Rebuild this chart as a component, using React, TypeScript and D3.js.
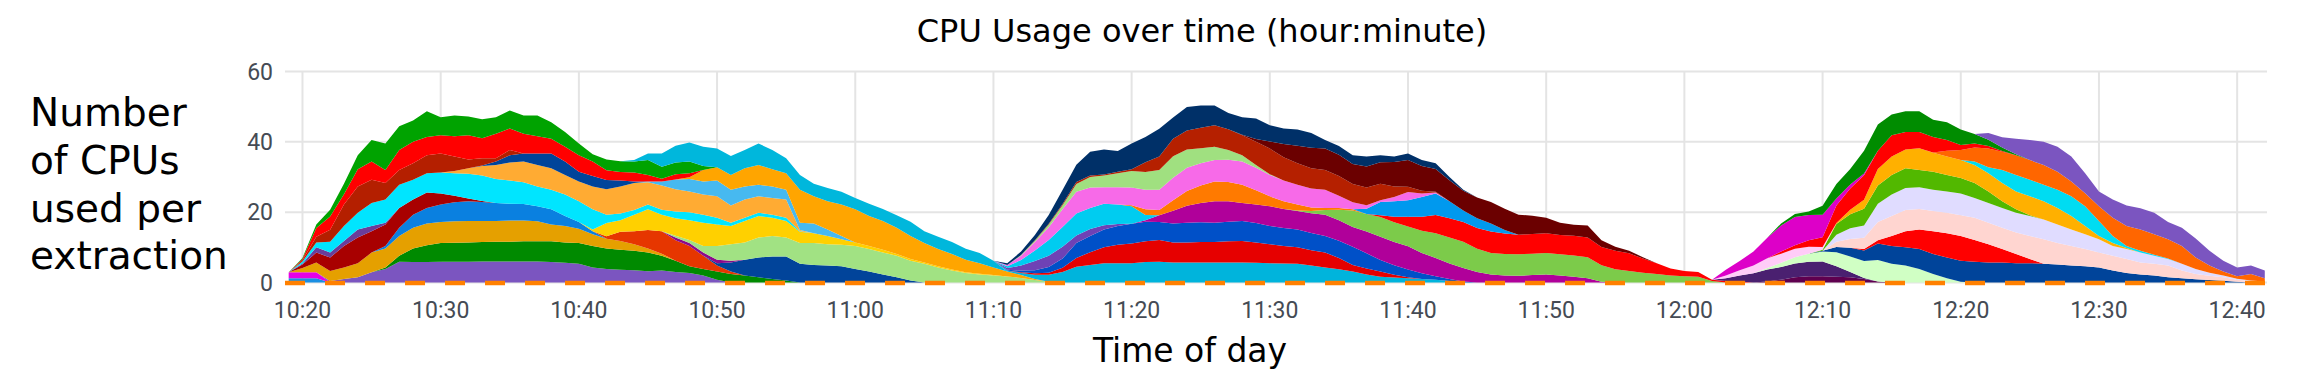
import React, { useEffect } from "react";
import * as d3 from "d3";

// ---------------- data ----------------
// time axis: minutes after 10:20
const tickMinutes = [0, 10, 20, 30, 40, 50, 60, 70, 80, 90, 100, 110, 120, 130, 140];
const tickLabels = ["10:20", "10:30", "10:40", "10:50", "11:00", "11:10", "11:20", "11:30", "11:40", "11:50", "12:00", "12:10", "12:20", "12:30", "12:40"];
const yTicks = [0, 20, 40, 60];
const firstMinute = -1;
const lastMinute = 142;

// ---- extraction batch 1 (series values = CPUs, one per minute from `start`) ----
const g1EarlyBlue = [1.2, 1.2, 1.2, 0];
const g1EarlyMagenta = [1.7, 1.7, 1.7, 0];
const g1Purple = [0, 0.4, 1.0, 1.5, 2.9, 3.85, 5.9, 5.8, 5.8, 5.9, 5.9, 5.9, 6.0, 6.0, 6.0, 6.0, 6.0, 5.8, 5.6, 5.3, 4.3, 3.85, 3.6, 3.5, 3.2, 3.4, 3.0, 2.7, 2.0, 0.8, 0];
const g1Green = [0, 0.45, 1.7, 3.9, 4.8, 5.3, 5.4, 5.5, 5.5, 5.6, 5.6, 5.7, 5.7, 5.9, 5.8, 5.9, 6.1, 5.8, 5.7, 5.5, 5.3, 4.2, 3.2, 1.9, 1.85, 2.3, 2.4, 2.0, 1.5, 1.0, 0.6, 0];
const g1Gold = [0, 1.2, 2.8, 2.9, 3.3, 4.0, 5.6, 5.4, 5.6, 5.9, 6.2, 6.0, 6.1, 6.1, 6.0, 5.9, 6.0, 5.9, 5.7, 4.8, 4.7, 4.1, 3.3, 2.8, 2.5, 1.9, 1.2, 0.6, 0];
const g1Blue = [0, 0.7, 2.4, 3.7, 4.4, 5.0, 5.4, 5.6, 5.4, 5.1, 4.8, 4.7, 4.3, 4.3, 2.8, 1.9, 0.9, 0];
const g1DarkRed = [0, 1.0, 2.8, 3.8, 6.1, 7.3, 6.1, 6.1, 5.6, 4.3, 4.4, 3.1, 1.9, 0.8, 0.3, 0];
const g1Violet = [0, 0.3, 1.5, 1.4, 1.4, 2.3, 1.5, 0.5, 0];
const g1RedOrange = [0, 0.7, 2.6, 3.7, 5.2, 6.4, 5.8, 5.8, 3.75, 1.7, 0.7, 0];
const g1Navy = [0, 0.7, 2.6, 4.5, 5.6, 6.4, 6.8, 5.3, 5.0, 4.8, 4.6, 3.85, 3.1, 2.3, 1.5, 0.6, 0];
const g1Plum = [0, 0.8, 0.8, 0.9, 1.0, 0.5, 0];
const g1LightGreen = [0, 0.5, 0.9, 1.9, 3.9, 4.7, 4.9, 5.7, 5.8, 5.4, 5.9, 6.2, 6.1, 6.1, 6.55, 6.4, 6.2, 6.1, 5.6, 5.3, 4.3, 3.4, 2.7, 2.3, 2.0, 1.7, 1.3, 0.7, 0.2, 0];
const g1Yellow = [0, 0.5, 3.8, 3.3, 4.7, 5.9, 4.7, 5.0, 5.6, 6.6, 6.1, 5.2, 6.1, 6.1, 5.2, 4.7, 3.2, 2.8, 2.3, 1.6, 1.0, 0.9, 0.8, 0.5, 0.5, 0.4, 0.3, 0.3, 0.2, 0.2, 0.1, 0];
const g1Cyan = [0, 0.6, 1.4, 3.1, 4.3, 4.7, 6.5, 6.6, 6.6, 5.6, 5.5, 6.0, 6.4, 7.0, 7.2, 6.8, 6.6, 6.2, 5.6, 5.6, 6.1, 5.9, 5.7, 2.3, 1.9, 1.3, 1.4, 1.4, 1.9, 2.3, 2.3, 1.9, 0.9, 0.9, 0.9, 0.9, 0.9, 0.2, 0];
const g1LightOrange = [0, 0.6, 1.6, 2.7, 4.0, 5.1, 5.9, 6.1, 6.1, 5.6, 5.6, 6.5, 7.3, 7.7, 7.7, 6.3, 6.9, 6.3, 5.9, 5.7, 6.1, 4.9, 5.2, 4.7, 4.7, 5.2, 0.3, 0];
const g1SkyBlue = [0, 0.2, 1.1, 2.8, 3.5, 3.7, 4.5, 4.5, 3.7, 3.3, 3.3, 2.8, 2.1, 2.8, 1.9, 0.9, 0];
const g1Orange = [0, 0.5, 3.3, 3.8, 4.2, 5.2, 5.6, 4.9, 4.7, 9.4, 7.7, 8.0, 9.0, 9.4, 8.5, 8.2, 7.5, 6.5, 5.5, 4.9, 4.4, 3.6, 3.0, 2.2, 1.4, 0.8, 0.3, 0];
const g1DeepBlue = [0, 0.2, 1.0, 2.1, 2.3, 3.3, 4.2, 3.8, 2.8, 3.0, 2.6, 1.7, 0.4, 0];
const g1Brown = [0, 0.3, 1.6, 3.4, 6.1, 7.5, 6.6, 4.7, 4.2, 4.7, 5.1, 5.4, 4.1, 2.5, 2.0, 0.9, 1.5, 0];
const g1Red = [0, 0.4, 2.5, 3.8, 2.9, 4.9, 5.2, 3.7, 5.7, 6.1, 5.2, 5.2, 5.8, 6.9, 5.7, 7.0, 6.1, 5.6, 4.9, 4.2, 4.2, 4.7, 4.1, 2.8, 2.4, 2.6, 1.9, 0.8, 1.5, 1.2, 0];
const g1TopGreen = [0, 0.3, 1.0, 1.9, 3.0, 4.0, 6.1, 7.5, 6.7, 6.1, 7.3, 5.1, 5.9, 5.3, 5.4, 4.7, 5.1, 5.2, 5.9, 4.7, 4.2, 3.3, 2.1, 3.0, 3.1, 3.1, 4.2, 3.4, 3.3, 3.3, 1.1, 0];
const g1Teal = [0, 0.4, 1.9, 3.8, 4.8, 5.4, 5.5, 5.3, 5.4, 5.2, 6.1, 5.5, 4.2, 4.2, 3.6, 3.8, 3.6, 3.2, 3.5, 3.4, 3.5, 4.1, 3.4, 3.5, 3.4, 3.1, 2.9, 1.9, 0];

// ---- extraction batch 2 ----
const g2Teal = [0, 0.3, 0.6, 1.2, 2.0, 3.0, 4.5, 5.0, 5.5, 5.5, 5.5, 5.8, 5.9, 5.7, 5.7, 5.7, 5.7, 5.7, 5.7, 5.6, 5.5, 5.4, 5.3, 4.8, 4.3, 3.8, 3.1, 2.3, 1.6, 1.4, 1.2, 1.0, 0.8, 0.4, 0];
const g2Red = [0, 0.2, 0.4, 0.6, 1.2, 2.5, 3.6, 4.5, 5.2, 5.6, 5.9, 6.2, 5.7, 5.7, 5.8, 5.8, 6.0, 6.1, 5.8, 5.4, 5.0, 4.7, 4.4, 4.2, 3.2, 1.9, 1.7, 1.5, 0.8, 0.3, 0];
const g2Blue = [0, 0.2, 0.5, 0.9, 1.6, 2.6, 4.2, 4.6, 5.1, 5.4, 5.6, 5.6, 5.1, 5.4, 5.6, 5.6, 5.5, 5.6, 5.7, 5.5, 5.2, 5.1, 5.1, 4.9, 4.7, 4.9, 5.2, 4.3, 3.3, 2.7, 2.2, 1.6, 1.0, 0.6, 0.3, 0];
const g2Violet = [0, 0.5, 1.4, 2.6, 3.2, 3.4, 2.2, 2.0, 1.2, 0.5, 0];
const g2Magenta = [0, 0.4, 1.9, 3.6, 4.8, 5.5, 6.1, 5.8, 5.1, 5.3, 5.6, 5.4, 5.2, 5.6, 6.1, 5.8, 5.6, 6.2, 6.6, 6.6, 6.6, 5.8, 5.2, 4.4, 3.8, 3.0, 2.3, 2.0, 1.9, 2.1, 2.3, 2.0, 1.6, 1.2, 0.2, 0];
const g2Green = [0, 0.2, 0.6, 1.3, 3.0, 4.7, 5.0, 5.6, 5.6, 5.6, 6.3, 7.0, 7.4, 7.5, 6.6, 6.1, 6.1, 6.1, 6.1, 6.1, 6.0, 6.1, 6.0, 4.7, 3.8, 3.3, 2.8, 2.4, 2.0, 1.8, 1.6, 0.4, 0];
const g2BrightRed = [0, 0.5, 1.6, 2.8, 4.0, 5.2, 5.5, 5.6, 5.9, 6.1, 5.8, 5.6, 5.6, 5.6, 5.5, 5.6, 5.6, 5.2, 5.2, 5.0, 4.0, 3.1, 2.0, 1.5, 1.4, 0.4, 0.4, 0.3, 0];
const g2Cyan = [0, 0.5, 1.6, 3.0, 4.5, 5.6, 6.2, 6.0, 6.1, 5.6, 5.0, 1.5, 0];
const g2Orange = [0, 0.3, 1.6, 1.5, 3.0, 4.2, 5.0, 5.6, 5.5, 5.2, 4.0, 2.8, 2.2, 1.7, 1.0, 0.6, 0.5, 0.3, 0];
const g2SkyBlue = [0, 1.5, 3.8, 4.4, 4.7, 5.6, 6.1, 4.8, 3.3, 2.8, 2.3, 1.0, 0];
const g2Pink = [0, 0.4, 1.2, 2.4, 3.6, 5.0, 6.2, 5.8, 4.7, 4.9, 5.0, 5.6, 5.8, 6.4, 6.6, 6.3, 6.1, 6.3, 6.6, 6.4, 6.1, 5.9, 5.6, 5.4, 5.2, 3.5, 2.0, 1.0, 0.5, 1.2, 2.3, 1.0, 0.3, 0];
const g2LightGreen = [0, 0.2, 0.4, 0.8, 1.2, 2.2, 3.0, 3.3, 4.0, 4.7, 5.0, 5.6, 6.1, 5.2, 4.3, 3.8, 2.8, 1.8, 0.8, 0.2, 0];
const g2Rust = [0, 0.1, 0.2, 0.3, 0.6, 0.4, 0.3, 0.4, 0.5, 2.8, 3.8, 5.0, 5.4, 5.8, 6.1, 5.9, 5.7, 6.6, 7.3, 6.6, 6.1, 5.8, 5.6, 5.6, 5.2, 5.0, 4.7, 3.0, 1.5, 0.8, 0.2, 0];
const g2Maroon = [0, 0.1, 0.8, 2.0, 3.8, 5.0, 5.8, 6.1, 6.0, 5.7, 6.0, 6.1, 7.0, 7.6, 7.0, 6.5, 6.0, 5.6, 5.9, 6.1, 6.1, 5.7, 5.2, 4.4, 3.5, 3.1, 3.4, 1.9, 1.2, 0.7, 0.4, 0];
const g2Navy = [0, 0.5, 1.0, 1.5, 2.5, 4.0, 4.9, 6.8, 7.1, 5.9, 7.3, 7.2, 7.9, 6.0, 6.7, 6.3, 5.6, 4.6, 5.0, 5.8, 4.6, 4.4, 4.6, 4.2, 2.4, 2.5, 2.5, 2.8, 2.0, 1.5, 1.9, 1.7, 1.6, 0.9, 0.3, 0];

// ---- extraction batch 3 ----
const g3Plum = [0, 0.3, 0.8, 1.5, 1.8, 1.8, 1.6, 1.5, 1.0, 0.3, 0];
const g3Indigo = [0, 0.8, 1.7, 2.6, 3.4, 3.6, 3.9, 4.1, 4.2, 3.0, 1.5, 0.3, 0];
const g3PaleGreen = [0, 0.4, 1.2, 1.8, 2.3, 2.8, 4.0, 4.4, 4.8, 6.1, 5.3, 4.8, 3.85, 2.4, 1.2, 0.2, 0];
const g3Navy = [0, 0.2, 1.5, 2.5, 3.0, 4.7, 5.1, 5.2, 5.65, 5.7, 5.9, 6.0, 5.9, 5.7, 5.7, 5.5, 5.5, 5.3, 5.1, 4.8, 4.6, 4.3, 3.4, 2.7, 2.3, 2.0, 1.5, 1.2, 0.9, 0.7, 0.5, 0.2, 0];
const g3Red = [0, 0.4, 0.9, 2.8, 4.6, 5.6, 6.5, 6.9, 7.0, 6.2, 5.2, 3.8, 2.6, 1.2, 0];
const g3Blush = [0, 1.5, 2.5, 3.2, 5.2, 5.7, 6.0, 5.8, 5.7, 5.8, 5.9, 6.3, 6.1, 6.1, 6.1, 6.5, 7.0, 6.1, 5.6, 4.9, 4.2, 4.2, 4.0, 3.4, 3.3, 3.3, 2.2, 1.5, 1.2, 1.0, 0.6, 0.4, 0.3];
const g3Lavender = [0, 2.0, 3.0, 3.5, 5.2, 6.1, 6.3, 6.2, 6.1, 6.1, 6.2, 5.6, 5.6, 5.6, 5.6, 5.7, 5.6, 5.3, 4.7, 4.2, 3.8, 2.8, 2.8, 2.8, 2.3, 1.9, 1.9, 1.45, 0.9, 0.5, 0.3, 0.2, 0];
const g3Green = [0, 0.3, 3.0, 4.0, 4.8, 5.2, 5.6, 5.6, 4.9, 5.1, 4.7, 4.4, 4.3, 3.3, 1.9, 1.0, 0.2, 0];
const g3Gold = [0, 0.3, 1.3, 2.5, 4.7, 5.2, 5.3, 6.2, 5.4, 5.2, 5.1, 5.1, 5.2, 5.2, 5.1, 5.4, 5.2, 4.7, 3.8, 2.4, 0.9, 0.8, 0.3, 0];
const g3Cyan = [0, 1.0, 1.7, 3.7, 4.7, 4.7, 4.7, 5.2, 5.6, 5.6, 4.3, 2.0, 0.6, 0.5, 0.3, 0.1, 0];
const g3Orange = [0, 0.1, 1.7, 2.9, 4.0, 5.3, 5.2, 5.6, 5.6, 5.6, 5.1, 4.2, 3.7, 4.2, 5.2, 5.7, 6.1, 5.8, 5.5, 5.1, 3.25, 2.0, 1.1, 0.7, 1.8, 0.9];
const g3PaleMagenta = [0, 0.8, 1.5, 2.2, 2.8, 2.6, 2.4, 2.0, 0.8, 0];
const g3BrightRed = [0, 0.6, 1.0, 1.8, 2.8, 5.0, 6.0, 7.0, 5.2, 6.1, 5.0, 4.6, 4.4, 3.0, 1.4, 1.1, 0.7, 0.2, 0];
const g3Magenta = [0, 1.6, 2.6, 4.0, 5.8, 7.4, 8.0, 7.2, 6.4, 2.0, 1.2, 0.5, 0];
const g3DarkGreen = [0, 0.6, 0.9, 1.0, 2.5, 4.1, 4.4, 6.5, 7.4, 5.9, 5.9, 5.9, 4.9, 5.1, 4.4, 2.7, 1.8, 1.0, 0.3, 0];
const g3Purple = [0, 1.9, 2.9, 4.4, 5.7, 6.6, 7.1, 7.1, 5.7, 4.2, 5.2, 5.8, 6.0, 6.1, 4.9, 5.2, 5.4, 4.2, 3.1, 2.5, 2.4, 2.2];

// stacking order (bottom -> top) and first minute of each series
const seriesDefs = [
  { key: "g1EarlyBlue", start: -1, values: g1EarlyBlue },
  { key: "g1EarlyMagenta", start: -1, values: g1EarlyMagenta },
  { key: "g1Purple", start: 1, values: g1Purple },
  { key: "g1Green", start: 5, values: g1Green },
  { key: "g1Gold", start: -1, values: g1Gold },
  { key: "g1Blue", start: 5, values: g1Blue },
  { key: "g1DarkRed", start: -1, values: g1DarkRed },
  { key: "g1Violet", start: -1, values: g1Violet },
  { key: "g1RedOrange", start: 21, values: g1RedOrange },
  { key: "g1Navy", start: 29, values: g1Navy },
  { key: "g1Plum", start: 26, values: g1Plum },
  { key: "g1LightGreen", start: 26, values: g1LightGreen },
  { key: "g1Yellow", start: 20, values: g1Yellow },
  { key: "g1Cyan", start: -1, values: g1Cyan },
  { key: "g1LightOrange", start: 10, values: g1LightOrange },
  { key: "g1SkyBlue", start: 24, values: g1SkyBlue },
  { key: "g1Orange", start: 27, values: g1Orange },
  { key: "g1DeepBlue", start: 12, values: g1DeepBlue },
  { key: "g1Brown", start: -1, values: g1Brown },
  { key: "g1Red", start: -1, values: g1Red },
  { key: "g1TopGreen", start: -1, values: g1TopGreen },
  { key: "g1Teal", start: 23, values: g1Teal },
  { key: "g2Teal", start: 50, values: g2Teal },
  { key: "g2Red", start: 51, values: g2Red },
  { key: "g2Blue", start: 50, values: g2Blue },
  { key: "g2Violet", start: 50, values: g2Violet },
  { key: "g2Magenta", start: 60, values: g2Magenta },
  { key: "g2Green", start: 71, values: g2Green },
  { key: "g2BrightRed", start: 77, values: g2BrightRed },
  { key: "g2Cyan", start: 50, values: g2Cyan },
  { key: "g2Orange", start: 59, values: g2Orange },
  { key: "g2SkyBlue", start: 76, values: g2SkyBlue },
  { key: "g2Pink", start: 50, values: g2Pink },
  { key: "g2LightGreen", start: 51, values: g2LightGreen },
  { key: "g2Rust", start: 52, values: g2Rust },
  { key: "g2Maroon", start: 67, values: g2Maroon },
  { key: "g2Navy", start: 50, values: g2Navy },
  { key: "g3Plum", start: 105, values: g3Plum },
  { key: "g3Indigo", start: 102, values: g3Indigo },
  { key: "g3PaleGreen", start: 105, values: g3PaleGreen },
  { key: "g3Navy", start: 109, values: g3Navy },
  { key: "g3Red", start: 112, values: g3Red },
  { key: "g3Blush", start: 110, values: g3Blush },
  { key: "g3Lavender", start: 110, values: g3Lavender },
  { key: "g3Green", start: 109, values: g3Green },
  { key: "g3Gold", start: 110, values: g3Gold },
  { key: "g3Cyan", start: 120, values: g3Cyan },
  { key: "g3Orange", start: 117, values: g3Orange },
  { key: "g3PaleMagenta", start: 102, values: g3PaleMagenta },
  { key: "g3BrightRed", start: 106, values: g3BrightRed },
  { key: "g3Magenta", start: 102, values: g3Magenta },
  { key: "g3DarkGreen", start: 106, values: g3DarkGreen },
  { key: "g3Purple", start: 121, values: g3Purple },
];

const seriesColors: Record<string, string> = {
  g1EarlyBlue: "#1a8fe3", g1EarlyMagenta: "#e600e6", g1Purple: "#7b55c0", g1Green: "#008a00",
  g1Gold: "#e5a000", g1Blue: "#0a80e0", g1DarkRed: "#a80000", g1Violet: "#6a3d9a",
  g1RedOrange: "#e63600", g1Navy: "#01449a", g1Plum: "#8b0a8b", g1LightGreen: "#a1e283",
  g1Yellow: "#ffd000", g1Cyan: "#00e5ff", g1LightOrange: "#ffab33", g1SkyBlue: "#47b9f0",
  g1Orange: "#ffa500", g1DeepBlue: "#00449a", g1Brown: "#b41f00", g1Red: "#ff0000",
  g1TopGreen: "#00a300", g1Teal: "#00b7dc",
  g2Teal: "#00b4dc", g2Red: "#e60000", g2Blue: "#0050c8", g2Violet: "#6f42b5",
  g2Magenta: "#b0009a", g2Green: "#7ccb4a", g2BrightRed: "#ff0000", g2Cyan: "#00ccf0",
  g2Orange: "#ff7a00", g2SkyBlue: "#0099ee", g2Pink: "#f76ae8", g2LightGreen: "#a0e080",
  g2Rust: "#b52000", g2Maroon: "#6b0000", g2Navy: "#003068",
  g3Plum: "#5f004f", g3Indigo: "#4a2070", g3PaleGreen: "#d0ffc4", g3Navy: "#00449a",
  g3Red: "#ff0000", g3Blush: "#ffd5d0", g3Lavender: "#e0dcff", g3Green: "#52b800",
  g3Gold: "#ffb000", g3Cyan: "#00dcf2", g3Orange: "#ff6600", g3PaleMagenta: "#ffccf8",
  g3BrightRed: "#ff0000", g3Magenta: "#dd00c8", g3DarkGreen: "#008c00", g3Purple: "#7b55c0",
};

// ---------------- chart ----------------
export default function App() {
  useEffect(() => {
    document.body.style.margin = "0";
  }, []);

  const W = 2309;
  const H = 381;
  const x = d3.scaleLinear().domain([-1.266, 142.16]).range([285, 2267]);
  const y = d3.scaleLinear().domain([0, 60]).range([282.5, 71.5]);

  const minutes = d3.range(firstMinute, lastMinute + 1);
  const rows = minutes.map((m) => {
    const r: any = { m };
    seriesDefs.forEach((s) => {
      const i = m - s.start;
      r[s.key] = i >= 0 && i < s.values.length ? s.values[i] : 0;
    });
    return r;
  });
  const stacked = d3.stack<any>().keys(seriesDefs.map((s) => s.key))(rows);
  const area = d3
    .area<any>()
    .x((d) => x(d.data.m))
    .y0((d) => y(d[0]))
    .y1((d) => y(d[1]))
    .curve(d3.curveLinear);

  const [x0, x1] = x.range();
  const tickFont = "Roboto, sans-serif";
  const labelFont = "'DejaVu Sans', sans-serif";
  const tickColor = "#454b54";

  return (
    <svg width={W} height={H} style={{ display: "block", background: "#fff" }}>
      <rect x={0} y={0} width={W} height={H} fill="#fff" />
      {/* grid */}
      {yTicks.map((v) => (
        <line key={"hy" + v} x1={x0} x2={x1} y1={y(v)} y2={y(v)} stroke="#e4e4e4" strokeWidth={2} />
      ))}
      {tickMinutes.map((m) => (
        <line key={"vx" + m} x1={x(m)} x2={x(m)} y1={y(60)} y2={y(0)} stroke="#e4e4e4" strokeWidth={2} />
      ))}
      {/* stacked areas */}
      {stacked.map((layer, li) => {
        const s = seriesDefs[li];
        const from = s.start - firstMinute;
        const pts = layer.slice(from, from + s.values.length);
        return <path key={s.key} d={area(pts) || ""} fill={seriesColors[s.key]} />;
      })}
      {/* dashed baseline */}
      <line x1={x0} x2={x1} y1={y(0) + 0.5} y2={y(0) + 0.5} stroke="#ff8000" strokeWidth={4.5} strokeDasharray="20 20" />
      {/* y tick labels */}
      {yTicks.map((v) => (
        <text key={"yt" + v} x={273} y={y(v) + 8.3} textAnchor="end" fontFamily={tickFont} fontSize={23} fill={tickColor}>
          {v}
        </text>
      ))}
      {/* x tick labels */}
      {tickMinutes.map((m, i) => (
        <text key={"xt" + m} x={x(m)} y={318} textAnchor="middle" fontFamily={tickFont} fontSize={23} fill={tickColor}>
          {tickLabels[i]}
        </text>
      ))}
      {/* title */}
      <text x={1202} y={41.5} textAnchor="middle" fontFamily={labelFont} fontSize={32} fill="#000">
        CPU Usage over time (hour:minute)
      </text>
      {/* x axis title */}
      <text x={1190} y={361.5} textAnchor="middle" fontFamily={labelFont} fontSize={33} fill="#000">
        Time of day
      </text>
      {/* y axis title */}
      {["Number", "of CPUs", "used per", "extraction"].map((t, i) => (
        <text key={t} x={30} y={126 + i * 47.8} fontFamily={labelFont} fontSize={39} fill="#000">
          {t}
        </text>
      ))}
    </svg>
  );
}
